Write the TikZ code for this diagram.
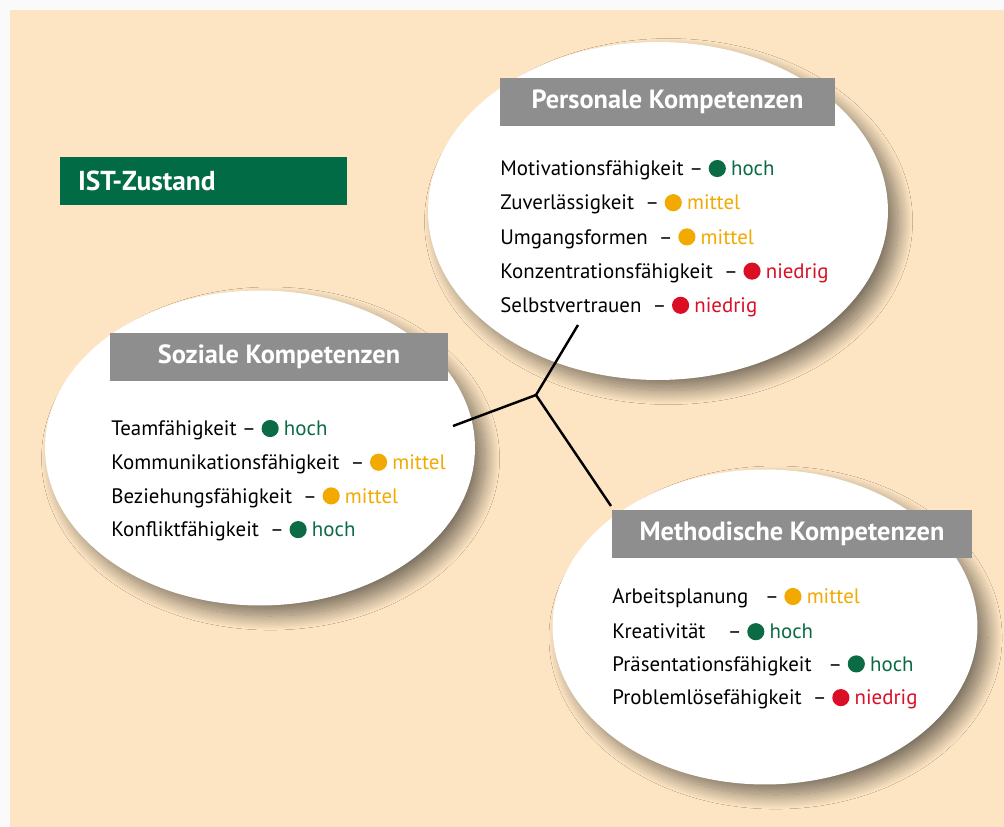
\documentclass[tikz,border=0pt]{standalone}
\usepackage{fontspec}
\setmainfont{PT Sans}
\usepackage{xcolor}
\usetikzlibrary{shapes.geometric,shadows.blur}

\definecolor{peach}{HTML}{FDE5C3}
\definecolor{headgray}{HTML}{8E8E8E}
\definecolor{istgreen}{HTML}{006B44}
\definecolor{lvlgreen}{HTML}{0B6B45}
\definecolor{lvlorange}{HTML}{F2A900}
\definecolor{lvlred}{HTML}{DA0F25}

\newcommand{\leveldot}[1]{\tikz[baseline=-0.34em]\fill[#1] (0,0) circle (0.41em);}
\newcommand{\hoch}{\leveldot{lvlgreen}\hspace{0.25em}\textcolor{lvlgreen}{hoch}}
\newcommand{\mittel}{\leveldot{lvlorange}\hspace{0.25em}\textcolor{lvlorange}{mittel}}
\newcommand{\niedrig}{\leveldot{lvlred}\hspace{0.25em}\textcolor{lvlred}{niedrig}}

\tikzset{
  bubble/.style={ellipse, fill=white, inner sep=0pt,
    blur shadow={shadow xshift=6pt, shadow yshift=-6pt, shadow blur radius=8pt,
      shadow blur steps=30, shadow opacity=50}},
  headbox/.style={fill=headgray, text=white, inner sep=0pt, minimum height=0.96cm,
    font=\fontsize{15}{17}\selectfont\bfseries},
  item/.style={anchor=west, inner sep=0pt, font=\fontsize{11.9}{14}\selectfont},
  link/.style={line width=1.4pt, black},
}

\begin{document}
\begin{tikzpicture}[x=0.02cm, y=-0.02cm]
\useasboundingbox (0,0) rectangle (1004,827);
\fill[white!98!black] (0,0) rectangle (1004,827);
\fill[peach] (10,10) rectangle (1004,827);

% Ellipsen
\node[bubble, minimum width=9.2cm, minimum height=6.76cm] (personal) at (658,211) {};
\node[bubble, minimum width=8.6cm, minimum height=6.3cm] (sozial) at (260,448) {};
\node[bubble, minimum width=8.5cm, minimum height=6.3cm] (method) at (765,627) {};

% IST-Zustand
\node[fill=istgreen, text=white, font=\fontsize{15.6}{17}\selectfont\bfseries,
  minimum height=0.96cm, text width=5.02cm, inner xsep=0.36cm, inner ysep=0pt, align=left]
  (ist) at (203.5,181) {IST-Zustand};

% Ueberschriften
\node[headbox, minimum width=6.7cm] (personalhead) at (667.5,102) {Personale Kompetenzen};
\node[headbox, minimum width=6.76cm] (sozialhead) at (279,357) {Soziale Kompetenzen};
\node[headbox, minimum width=7.2cm] (methodhead) at (792,534) {Methodische Kompetenzen};

% Eintraege
\foreach \txt/\lvl [count=\i] in {Motivationsfähigkeit/\hoch, Zuverlässigkeit\ /\mittel,
    Umgangsformen\ /\mittel, Konzentrationsfähigkeit\ /\niedrig, Selbstvertrauen\ /\niedrig}
  \node[item] (p\i) at (500,{170+34.2*(\i-1)}) {\txt\ – \lvl};
\foreach \txt/\lvl [count=\i] in {Teamfähigkeit/\hoch, Kommunikationsfähigkeit\ /\mittel,
    Beziehungsfähigkeit\ /\mittel, Konfliktfähigkeit\ /\hoch}
  \node[item] (s\i) at (111,{430+33.7*(\i-1)}) {\txt\ – \lvl};
\foreach \txt/\lvl [count=\i] in {Arbeitsplanung\ \ /\mittel, Kreativität\ \ \ /\hoch,
    Präsentationsfähigkeit\ \ /\hoch, Problemlösefähigkeit\ /\niedrig}
  \node[item] (m\i) at (612,{598+33.7*(\i-1)}) {\txt\ – \lvl};

% Verbindung
\coordinate (hub) at (536,395);
\coordinate (toP) at (578,325);
\coordinate (toS) at (453,426);
\coordinate (toM) at (611,506);
\draw[link] (hub) -- (toP);
\draw[link] (hub) -- (toS);
\draw[link] (hub) -- (toM);
\end{tikzpicture}
\end{document}
